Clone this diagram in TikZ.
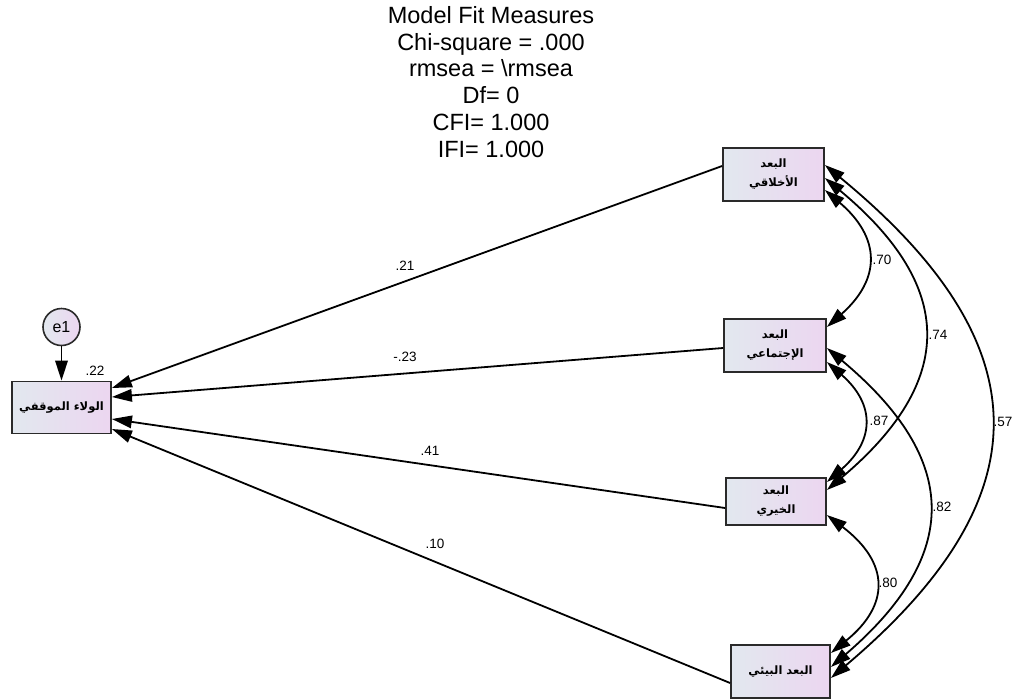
\documentclass[tikz,border=0pt]{standalone}
\usepackage{fontspec}
\setmainfont{Liberation Sans}
\newfontfamily\arabicfont[Script=Arabic]{DejaVu Sans}
\TeXXeTstate=1
\usetikzlibrary{arrows.meta}

\definecolor{boxleft}{HTML}{E2E8EF}
\definecolor{boxright}{HTML}{ECD6F0}
\definecolor{boxedge}{HTML}{2A2A2A}

\tikzset{
  obsbox/.style={draw=boxedge, line width=1.8pt, left color=boxleft, right color=boxright,
    minimum width=#1, minimum height=53pt, inner sep=2pt, align=center,
    font=\arabicfont\bfseries\fontsize{11.5}{19}\selectfont},
  obsbox/.default=100pt,
  errnode/.style={circle, draw=boxedge, line width=1.6pt, left color=boxleft, right color=boxright,
    minimum size=37pt, inner sep=0pt, font=\fontsize{16}{18}\selectfont},
  tip/.style={Triangle[length=20pt,width=12.5pt]},
  reg/.style={line width=1.8pt, -{Triangle[length=20pt,width=12.5pt]}},
  cov/.style={line width=1.8pt, {Triangle[length=20pt,width=12.5pt]}-{Triangle[length=20pt,width=12.5pt]}},
  est/.style={inner sep=1pt, font=\fontsize{13.5}{15}\selectfont},
}

\begin{document}
\begin{tikzpicture}[x=1pt, y=-1pt]
\useasboundingbox (0,0) rectangle (1014,699);

% fit summary
\node[anchor=north, inner sep=0pt, align=center, font=\fontsize{23.5}{26.8}\selectfont] (fit) at (491,6)
  {Model Fit Measures\\Chi-square = .000\\rmsea = \textbackslash rmsea\\Df= 0\\CFI= 1.000\\IFI= 1.000};

% observed variables
\node[obsbox=101pt] (b1) at (773.5,174.5) {\beginR البعد\endR\\\beginR الأخلاقي\endR};
\node[obsbox=102pt] (b2) at (775,345.5) {\beginR البعد\endR\\\beginR الإجتماعي\endR};
\node[obsbox=100pt, minimum height=47pt] (b3) at (776,501.5) {\beginR البعد\endR\\\beginR الخيري\endR};
\node[obsbox=99pt] (b4) at (780.5,671.5) {\beginR البعد البيئي\endR};
\node[obsbox=99pt, minimum height=52pt] (y) at (61.5,407.5) {\beginR الولاء الموقفي\endR};

% error term
\node[errnode] (e1) at (61.5,327) {e1};
\draw[reg] (e1) -- (y);
\node[est] (r2) at (95,371) {.22};

% regression paths
\draw[reg] (b1.west |- 0,166) -- (y.east |- 0,388);
\draw[reg] (b2.west |- 0,348) -- (y.east |- 0,397);
\draw[reg] (b3.west |- 0,508) -- (y.east |- 0,419);
\draw[reg] (b4.west |- 0,683) -- (y.east |- 0,429);
\node[est] (w1) at (405,266) {.21};
\node[est] (w2) at (405,357) {-.23};
\node[est] (w3) at (430,451) {.41};
\node[est] (w4) at (435,544) {.10};

% correlations between the dimensions
\draw[cov] (b1.east |- 0,190) .. controls (881,238) and (881,279) .. (b2.east |- 0,327);
\draw[cov] (b1.east |- 0,178) .. controls (956,287) and (956,381) .. (b3.east |- 0,490);
\draw[cov] (b1.east |- 0,165) .. controls (1044,345) and (1044,498) .. (b4.east |- 0,678);
\draw[cov] (b2.east |- 0,362) .. controls (875,404) and (875,440) .. (b3.east |- 0,482);
\draw[cov] (b2.east |- 0,348) .. controls (961,460) and (961,555) .. (b4.east |- 0,667);
\draw[cov] (b3.east |- 0,515) .. controls (890,563) and (890,605) .. (b4.east |- 0,653);
\node[est] (c12) at (882,260) {.70};
\node[est] (c13) at (938,335) {.74};
\node[est] (c14) at (1003,422) {.57};
\node[est] (c23) at (879,421) {.87};
\node[est] (c24) at (942,507) {.82};
\node[est] (c34) at (888,583) {.80};
\end{tikzpicture}
\end{document}
